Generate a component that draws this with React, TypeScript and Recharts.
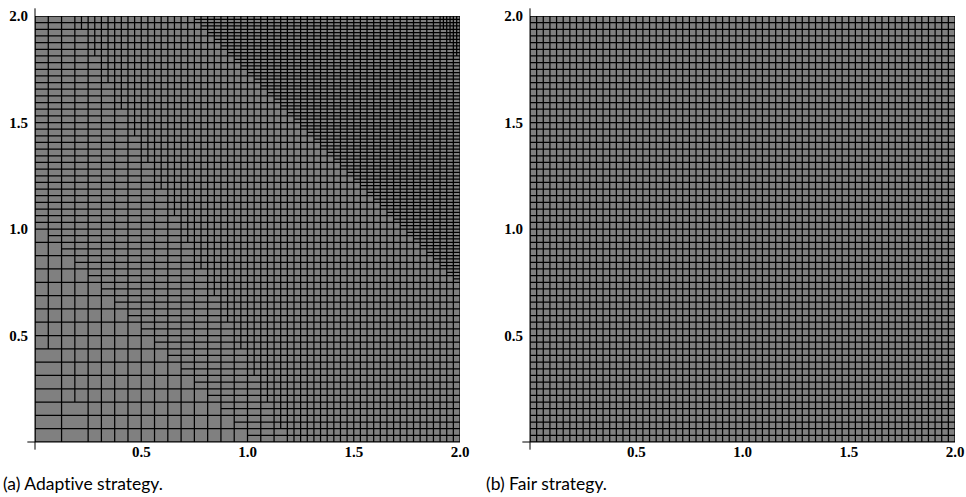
import React from 'react';
import { LineChart, Line, XAxis, YAxis, ReferenceArea, ReferenceLine } from 'recharts';

const LABEL_TICKS = [0.5, 1.0, 1.5, 2.0];
const MINOR_TICKS = [0.1, 0.2, 0.3, 0.4, 0.5, 0.6, 0.7, 0.8, 0.9, 1.0, 1.1, 1.2, 1.3, 1.4, 1.5, 1.6, 1.7, 1.8, 1.9, 2.0];
const DOMAIN: [number, number] = [0, 2];
const ROOT_CELL = 1 / 8;

// panel (a): cell width changes across lines 2x+y = limit, cell height across x+y = limit
const ADAPTIVE_WIDTH_LIMITS = [0.57, 2.38, 5.8];
const ADAPTIVE_WIDTHS = [1 / 8, 1 / 16, 1 / 32, 1 / 64];
const ADAPTIVE_HEIGHT_LIMITS = [1.04, 2.72];
const ADAPTIVE_HEIGHTS = [1 / 16, 1 / 32, 1 / 64];

// panel (b): one size everywhere
const FAIR_WIDTH_LIMITS: number[] = [];
const FAIR_WIDTHS = [1 / 32];
const FAIR_HEIGHT_LIMITS: number[] = [];
const FAIR_HEIGHTS = [1 / 32];

const CAPTIONS = ['(a) Adaptive strategy.', '(b) Fair strategy.'];

const AXIS_OVERHANG = 0.036;

type Pt = { x: number; y: number | null };

const pick = (limits: number[], sizes: number[], v: number) => {
  let i = 0;
  while (i < limits.length && v >= limits[i]) i++;
  return sizes[i];
};

// split root cells until every leaf has the size its band asks for,
// then trace the left and bottom edge of each leaf (null breaks the line)
function buildMesh(wLimits: number[], widths: number[], hLimits: number[], heights: number[]): Pt[] {
  const pts: Pt[] = [];
  const visit = (x0: number, y0: number, w: number, h: number) => {
    const cx = x0 + w / 2;
    const cy = y0 + h / 2;
    if (w > pick(wLimits, widths, 2 * cx + cy) + 1e-9) {
      visit(x0, y0, w / 2, h);
      visit(x0 + w / 2, y0, w / 2, h);
      return;
    }
    if (h > pick(hLimits, heights, cx + cy) + 1e-9) {
      visit(x0, y0, w, h / 2);
      visit(x0, y0 + h / 2, w, h / 2);
      return;
    }
    pts.push({ x: x0, y: y0 + h }, { x: x0, y: y0 }, { x: x0 + w, y: y0 }, { x: x0 + w, y: null });
  };
  const n = Math.round((DOMAIN[1] - DOMAIN[0]) / ROOT_CELL);
  for (let i = 0; i < n; i++) {
    for (let j = 0; j < n; j++) {
      visit(DOMAIN[0] + i * ROOT_CELL, DOMAIN[0] + j * ROOT_CELL, ROOT_CELL, ROOT_CELL);
    }
  }
  // outer top and right edges
  pts.push({ x: DOMAIN[0], y: DOMAIN[1] }, { x: DOMAIN[1], y: DOMAIN[1] }, { x: DOMAIN[1], y: DOMAIN[0] }, { x: DOMAIN[1], y: null });
  return pts;
}

const adaptiveMesh = buildMesh(ADAPTIVE_WIDTH_LIMITS, ADAPTIVE_WIDTHS, ADAPTIVE_HEIGHT_LIMITS, ADAPTIVE_HEIGHTS);
const fairMesh = buildMesh(FAIR_WIDTH_LIMITS, FAIR_WIDTHS, FAIR_HEIGHT_LIMITS, FAIR_HEIGHTS);

const tickStyle = { fontFamily: '"Liberation Serif", serif', fontWeight: 700, fontSize: 15, fill: '#000' };
const fmt = (v: number) => v.toFixed(1);

const Panel: React.FC<{ mesh: Pt[]; left: number; caption: string; captionLeft: number }> = ({ mesh, left, caption, captionLeft }) => (
  <div style={{ position: 'absolute', left, top: 0, width: 470, height: 497 }}>
    <LineChart width={470} height={460} margin={{ top: 16, right: 10, bottom: 0, left: 0 }}>
      <XAxis
        dataKey="x"
        type="number"
        domain={DOMAIN}
        ticks={LABEL_TICKS}
        tickFormatter={fmt}
        interval={0}
        axisLine={false}
        tickLine={false}
        tickSize={3}
        tickMargin={1}
        height={18}
        tick={tickStyle}
        allowDataOverflow
      />
      <YAxis
        type="number"
        domain={DOMAIN}
        ticks={LABEL_TICKS}
        tickFormatter={fmt}
        interval={0}
        axisLine={false}
        tickLine={false}
        tickSize={5}
        tickMargin={2}
        width={35}
        tick={tickStyle}
        allowDataOverflow
      />
      <XAxis
        xAxisId="minor"
        type="number"
        domain={DOMAIN}
        ticks={MINOR_TICKS}
        interval={0}
        mirror
        tick={false}
        axisLine={false}
        tickSize={3}
        tickLine={{ stroke: '#000' }}
      />
      <YAxis
        yAxisId="minor"
        type="number"
        domain={DOMAIN}
        ticks={MINOR_TICKS}
        interval={0}
        mirror
        tick={false}
        axisLine={false}
        tickSize={3}
        tickLine={{ stroke: '#000' }}
      />
      <ReferenceArea x1={DOMAIN[0]} x2={DOMAIN[1]} y1={DOMAIN[0]} y2={DOMAIN[1]} fill="#808080" fillOpacity={1} stroke="none" />
      <Line
        data={mesh}
        dataKey="y"
        stroke="#000"
        strokeWidth={1.25}
        dot={false}
        activeDot={false}
        connectNulls={false}
        isAnimationActive={false}
      />
      <ReferenceLine
        segment={[{ x: DOMAIN[0], y: DOMAIN[0] - AXIS_OVERHANG }, { x: DOMAIN[0], y: DOMAIN[1] + AXIS_OVERHANG }]}
        stroke="#000"
        strokeWidth={1}
        ifOverflow="visible"
      />
      <ReferenceLine
        segment={[{ x: DOMAIN[0] - AXIS_OVERHANG, y: DOMAIN[0] }, { x: DOMAIN[1], y: DOMAIN[0] }]}
        stroke="#000"
        strokeWidth={1}
        ifOverflow="visible"
      />
    </LineChart>
    <div
      style={{
        position: 'absolute',
        left: captionLeft,
        top: 474,
        fontFamily: 'Lato, sans-serif',
        fontSize: 17.5,
        fontVariantLigatures: 'none',
        lineHeight: '20px',
        color: '#000',
        whiteSpace: 'nowrap',
      }}
    >
      {caption}
    </div>
  </div>
);

export default function App() {
  return (
    <div style={{ position: 'absolute', left: 0, top: 0, width: 966, height: 497, background: '#fff', overflow: 'hidden' }}>
      <Panel mesh={adaptiveMesh} left={0} caption={CAPTIONS[0]} captionLeft={3} />
      <Panel mesh={fairMesh} left={495} caption={CAPTIONS[1]} captionLeft={-9} />
    </div>
  );
}
